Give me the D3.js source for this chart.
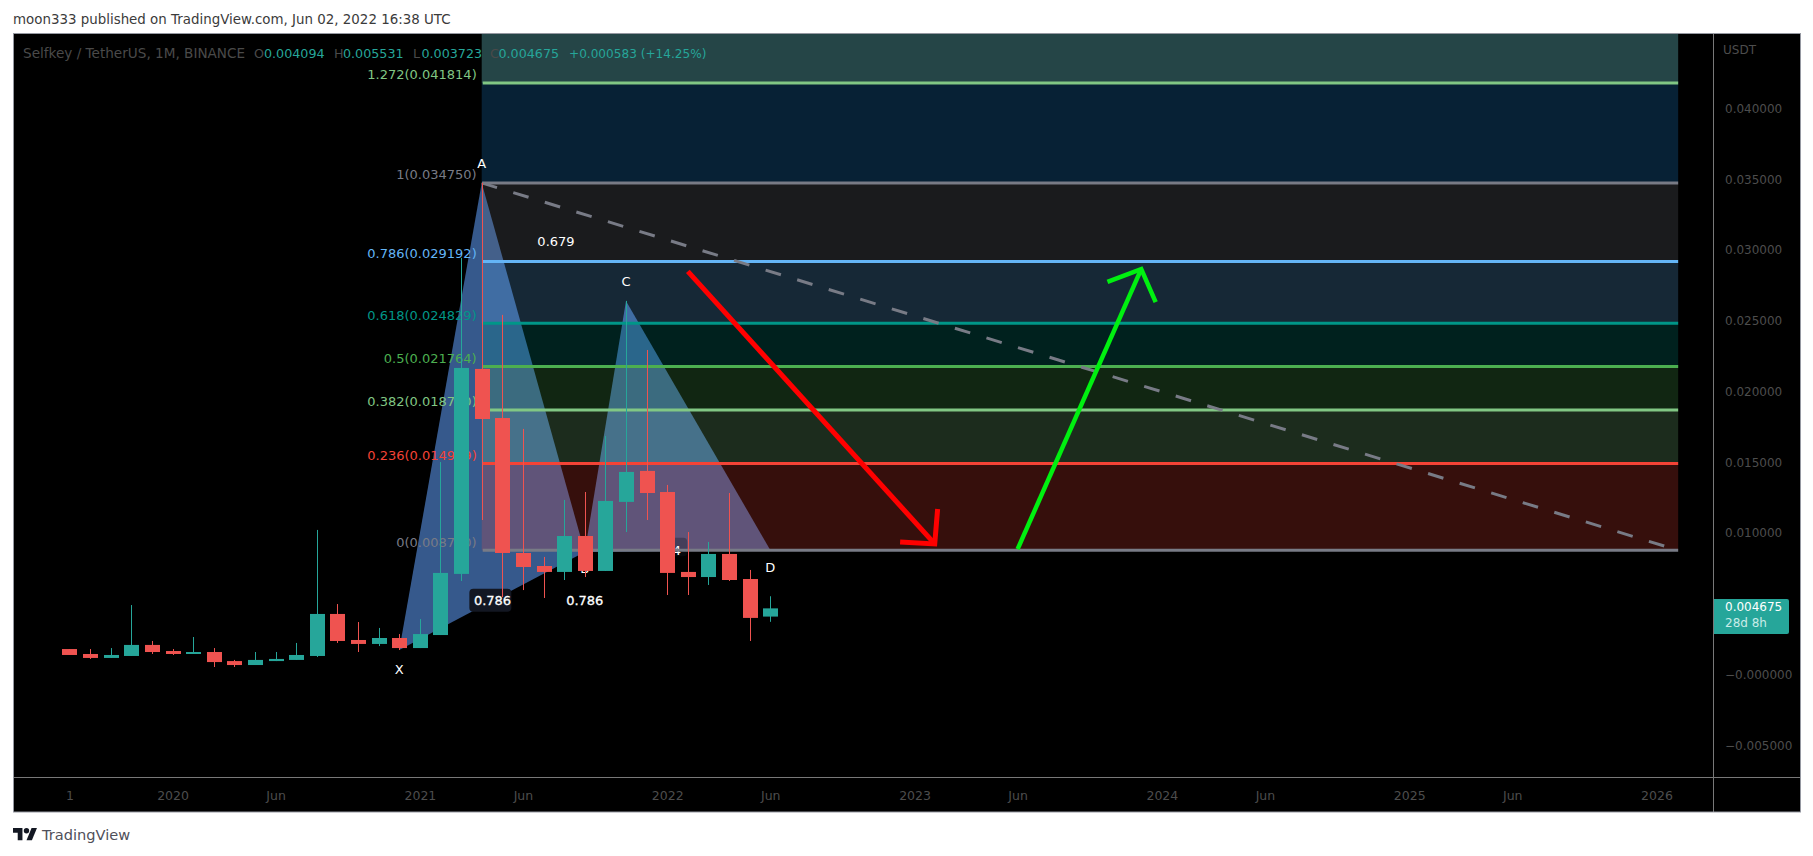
<!DOCTYPE html>
<html><head><meta charset="utf-8">
<script src="https://d3js.org/d3.v7.min.js"></script>
<style>html,body{margin:0;padding:0;background:#fff;overflow:hidden}svg{display:block}text{font-family:"DejaVu Sans",sans-serif}</style>
</head><body><div id="c"></div>
<script>
// ---- data ----
const opens =[.00180,.00145,.00117,.00131,.00209,.00166,.00145,.00159,.00095,.00067,.00095,.00103,.00131,.00428,.00244,.00216,.00258,.00187,.00279,.00711,.02160,.01813,.00859,.00767,.00725,.00979,.00732,.01220,.01439,.01290,.00725,.00689,.00852,.00675,.004094];
const highs =[.00180,.00180,.00187,.00491,.00237,.00180,.00265,.00187,.00103,.00159,.00159,.00223,.01022,.00498,.00371,.00329,.00286,.00392,.01502,.02945,.03475,.02542,.01736,.00831,.01234,.01290,.01686,.02641,.02294,.01340,.01007,.00937,.01283,.00739,.005531];
const lows  =[.00138,.00110,.00117,.00131,.00145,.00138,.00145,.00053,.00053,.00067,.00095,.00103,.00124,.00223,.00159,.00201,.00173,.00187,.00279,.00661,.01092,.00548,.00597,.00541,.00668,.00689,.00732,.01007,.01092,.00562,.00562,.00633,.00661,.00237,.003723];
const closes=[.00138,.00117,.00138,.00209,.00159,.00145,.00159,.00088,.00067,.00103,.00110,.00138,.00428,.00237,.00216,.00258,.00187,.00286,.00718,.02167,.01806,.00859,.00760,.00725,.00979,.00732,.01227,.01432,.01283,.00718,.00689,.00852,.00668,.00400,.004675];
const timeTickIndex=[0,5,10,17,22,29,34,41,46,53,58,65,70,77];
const timeTickLabels=["1","2020","Jun","2021","Jun","2022","Jun","2023","Jun","2024","Jun","2025","Jun","2026"];
const priceTicks=[.04,.035,.03,.025,.02,.015,.01,.005,0,-.005];
const priceTickLabels=["0.040000","0.035000","0.030000","0.025000","0.020000","0.015000","0.010000","0.005000","−0.000000","−0.005000"];
const fibRatios=["1.272","1","0.786","0.618","0.5","0.382","0.236","0"];
const fibPrices=[.041814,.03475,.029192,.024829,.021764,.018700,.014909,.00878];
const fibPriceText=["0.041814","0.034750","0.029192","0.024829","0.021764","0.018700","0.014909","0.008780"];
const fibColors=["#81c784","#787b86","#64b5f6","#009688","#4caf50","#81c784","#f44336","#787b86"];
const fibBandColors=["#2196f3","#787b86","#64b5f6","#009688","#4caf50","#81c784","#f44336"];
const patternNames=["X","A","B","C","D"];
const patternIndex=[16,20,25,27,34];
const patternPrices=[.00173,.03475,.00866,.02641,.00880];
const redArrowIndex=[30.0,41.98,40.30,42.12], redArrowPrice=[.02850,.00923,.00937,.01170];
const greenArrowIndex=[46.0,52.0,50.36,52.70], greenArrowPrice=[.00886,.02866,.02775,.02632];
const fibEndIndex=78.05;

// ---- scales ----
const W=1813,H=856,L=13,R=1800,T=34,B=812,AX=1713,AY=777;
const x=d3.scaleLinear().domain([-2.741,79.74]).range([L,AX]);
const y=d3.scaleLinear().domain([.045275,-.007245]).range([T,AY]);
const svg=d3.select("#c").append("svg").attr("width",W).attr("height",H);
const AXC="#4d4d4d",UP="#26a69a",DN="#ef5350";

svg.append("text").attr("x",13).attr("y",24).attr("font-size",13.4).attr("fill","#3b3b3b")
  .text("moon333 published on TradingView.com, Jun 02, 2022 16:38 UTC");
svg.append("rect").attr("x",L).attr("y",T).attr("width",R-L).attr("height",B-T).attr("fill","#000");

svg.append("defs").append("clipPath").attr("id","plot").append("rect").attr("x",L).attr("y",T).attr("width",AX-L).attr("height",AY-T);
const plot=svg.append("g").attr("clip-path","url(#plot)");

// pattern triangles (under the fib)
const P=i=>[x(patternIndex[i]),y(patternPrices[i])];
plot.append("path").attr("d",d3.line()([P(0),P(1),P(2)])+"Z").attr("fill","#36598c");
plot.append("path").attr("d",d3.line()([P(2),P(3),P(4)])+"Z").attr("fill","#36598c");

// fib labels
const fibX=x(20);
plot.selectAll(".fl").data(fibRatios).join("text").attr("text-anchor","end").attr("x",fibX-5)
  .attr("y",(d,i)=>y(fibPrices[i])-3.5).attr("font-size",13).attr("fill",(d,i)=>fibColors[i])
  .text((d,i)=>`${d}(${fibPriceText[i]})`);

// fib bands
plot.append("rect").attr("x",fibX).attr("y",T).attr("width",x(fibEndIndex)-fibX).attr("height",y(fibPrices[0])-T).attr("fill","#254547");
fibBandColors.forEach((c,i)=>{
  plot.append("rect").attr("x",fibX).attr("width",x(fibEndIndex)-fibX)
   .attr("y",y(fibPrices[i])).attr("height",y(fibPrices[i+1])-y(fibPrices[i]))
   .attr("fill",c).attr("fill-opacity",.22);
});
// label hidden behind the candle of Jan 2022
const box=(bx,by,w,h,f)=>plot.append("rect").attr("x",bx).attr("y",by).attr("width",w).attr("height",h).attr("rx",4).attr("fill",f);
box(x(28.7),y(.00966),x(29.97)-x(28.7),y(.00878)-y(.00966)+6,"#131722").attr("fill-opacity",.35);
plot.append("text").attr("x",x(29.67)).attr("y",y(.00845)).attr("text-anchor","end").attr("font-size",13).attr("fill","#fff").text("1.4");

// fib lines
plot.selectAll(".fline").data(fibPrices).join("line").attr("x1",fibX+1).attr("x2",x(fibEndIndex))
  .attr("y1",d=>y(d)).attr("y2",d=>y(d)).attr("stroke",(d,i)=>fibColors[i]).attr("stroke-width",3);
// trend
plot.append("line").attr("x1",fibX).attr("y1",y(fibPrices[1])).attr("x2",x(fibEndIndex)).attr("y2",y(fibPrices[7]))
  .attr("stroke","#787b86").attr("stroke-width",3).attr("stroke-dasharray","16,17");
plot.append("text").attr("x",x(22.7)).attr("y",y(.03032)).attr("font-size",13).attr("fill","#fff").text("0.679");

// pattern point labels
const labDy=[24,-15,21,-15,22];
patternNames.forEach((n,i)=>{
  plot.append("text").attr("x",x(patternIndex[i])).attr("y",y(patternPrices[i])+labDy[i]).attr("text-anchor","middle")
   .attr("font-size",13).attr("fill","#fff").text(n);
});
// ratio labels
box(x(19.4),y(.00607),42,23,"#131722");
plot.append("text").attr("x",x(19.62)).attr("y",y(.00607)+16).attr("font-size",13).attr("stroke","#fff").attr("stroke-width",.3).attr("fill","#fff").text("0.786");
plot.append("text").attr("x",x(25)).attr("y",y(.00607)+16).attr("text-anchor","middle").attr("font-size",13).attr("stroke","#fff").attr("stroke-width",.3).attr("fill","#fff").text("0.786");

// candles
const cw=15;
const g=plot.selectAll(".c").data(opens).join("g");
const col=(d,i)=>closes[i]>=opens[i]?UP:DN;
g.append("line").attr("x1",(d,i)=>Math.round(x(i))+.5).attr("x2",(d,i)=>Math.round(x(i))+.5)
 .attr("y1",(d,i)=>y(highs[i])).attr("y2",(d,i)=>y(lows[i])).attr("stroke",col).attr("stroke-width",1);
g.append("rect").attr("x",(d,i)=>Math.round(x(i))+.5-cw/2).attr("width",cw)
 .attr("y",(d,i)=>y(Math.max(opens[i],closes[i])))
 .attr("height",(d,i)=>Math.max(1,Math.abs(y(opens[i])-y(closes[i])))).attr("fill",col);

// arrows
function arrow(xs,ps,c,w){
  const pts=xs.map((d,i)=>[x(d),y(ps[i])]);
  const ln=d3.line();
  plot.append("path").attr("d",ln([pts[0],pts[1]])).attr("stroke",c).attr("stroke-width",w).attr("fill","none").attr("stroke-linecap","butt");
  plot.append("path").attr("d",ln([pts[2],pts[1],pts[3]])).attr("stroke",c).attr("stroke-width",w).attr("fill","none").attr("stroke-linejoin","miter");
}
arrow(redArrowIndex,redArrowPrice,"#ff0000",5);
arrow(greenArrowIndex,greenArrowPrice,"#00f010",4.5);

// axes
const xAxis=d3.axisBottom(x).tickValues(timeTickIndex).tickFormat((d,i)=>timeTickLabels[i]).tickSize(0).tickPadding(0);
const gx=svg.append("g").attr("transform",`translate(0,${AY})`).call(xAxis);
gx.select(".domain").remove();
gx.selectAll("text").attr("y",19).attr("dy","0.32em").attr("font-size",12.5).attr("font-family","DejaVu Sans").attr("fill",AXC);
const yAxis=d3.axisRight(y).tickValues(priceTicks).tickFormat((d,i)=>priceTickLabels[i]).tickSize(0).tickPadding(0);
const gy=svg.append("g").attr("transform",`translate(${AX},0)`).call(yAxis);
gy.select(".domain").remove();
gy.selectAll("text").attr("x",12).attr("text-anchor","start").attr("dy","0.32em").attr("font-size",12).attr("font-family","DejaVu Sans").attr("fill",AXC);
svg.append("text").attr("x",1723).attr("y",54).attr("font-size",12).attr("fill",AXC).text("USDT");

// last price tag
const tag=svg.append("g");
tag.append("path").attr("d",`M${AX} 599H${AX+74}a2 2 0 0 1 2 2V632a2 2 0 0 1 -2 2H${AX}Z`).attr("fill",UP);
tag.append("text").attr("x",1725).attr("y",y(closes[34])+3).attr("font-size",12).attr("fill","#fff").text("0.004675");
tag.append("text").attr("x",1725).attr("y",y(closes[34])+19).attr("font-size",12).attr("fill","#c9ece8").text("28d 8h");

// separators + frame
const sep="#787878";
svg.append("line").attr("x1",AX+.5).attr("x2",AX+.5).attr("y1",T).attr("y2",B).attr("stroke",sep);
svg.append("line").attr("x1",L).attr("x2",R).attr("y1",AY+.5).attr("y2",AY+.5).attr("stroke",sep);
svg.append("rect").attr("x",L+.5).attr("y",T-.5).attr("width",R-L).attr("height",B-T+.5).attr("fill","none").attr("stroke","#9598a1");

// legend
const leg=svg.append("text").attr("y",58).attr("font-size",12.7);
const dim="#4a4a4a";
[[23,"Selfkey / TetherUS, 1M, BINANCE",dim,13.6],[254,"O",dim,12.7],[264,"0.004094",UP,12.7],[334,"H",dim,12.7],[343,"0.005531",UP,12.7],[413,"L",dim,12.7],[421.5,"0.003723",UP,12.7],[490,"C",dim,12.7],[498.5,"0.004675",UP,12.7],[569,"+0.000583 (+14.25%)",UP,12.1]]
 .forEach(d=>leg.append("tspan").attr("x",d[0]).attr("fill",d[2]).attr("font-size",d[3]).text(d[1]));

// logo
svg.append("g").attr("transform","translate(13,825.3) scale(0.675)").attr("fill","#131722").selectAll("path")
 .data(["M14 22H7V11H0V4h14v18z","M28 22h-8l7.5-18h8L28 22z"]).join("path").attr("d",d=>d);
svg.append("circle").attr("cx",13+20*.675).attr("cy",825.3+8*.675).attr("r",4*.675).attr("fill","#131722");
svg.append("text").attr("x",42).attr("y",840).attr("font-size",14.6).attr("fill","#50505a").text("TradingView");
</script></body></html>
